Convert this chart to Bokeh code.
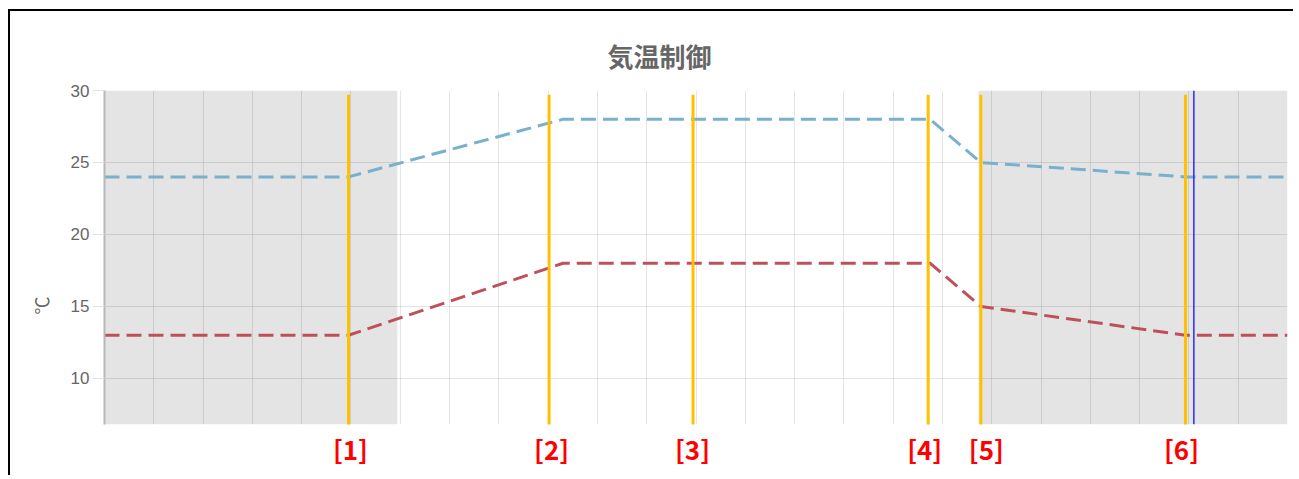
from bokeh.plotting import figure
from bokeh.models import (BoxAnnotation, FixedTicker, SingleIntervalTicker,
                          Span, Range1d, Title)
from bokeh.embed import file_html
from bokeh.resources import INLINE

# ---- data (hours of the day / degrees C) ----
hours = [0, 4.95, 9.3, 16.75, 17.78, 21.93, 24]
upper_temp = [24, 24, 28, 28, 25, 24, 24]
lower_temp = [13, 13, 18, 18, 15, 13, 13]
night_start = [0, 17.73]
night_end = [5.94, 24]
marker_hours = [4.95, 9.02, 11.94, 16.71, 17.78, 21.93]
marker_labels = ["[1]", "[2]", "[3]", "[4]", "[5]", "[6]"]
label_hours = [4.99, 9.07, 11.93, 16.64, 17.89, 21.85]
now_hour = 22.1
y_ticks = [10, 15, 20, 25, 30]

Y_MIN, Y_MAX = 6.8, 30

p = figure(width=1285, height=466, output_backend="svg", toolbar_location=None,
           x_range=Range1d(0, 24), y_range=Range1d(Y_MIN, Y_MAX),
           min_border_left=94, min_border_right=8, min_border_top=79,
           min_border_bottom=53, title="気温制御")
p.styles = {"margin-left": "8px", "margin-top": "9px",
            "border-left": "2px solid black", "border-top": "2px solid black"}
p.outline_line_color = None
p.background_fill_color = "white"
p.border_fill_color = "white"

p.title.text_font = "Noto Sans CJK JP"
p.title.text_font_size = "26px"
p.title.text_font_style = "bold"
p.title.text_color = "#666666"
p.title.align = "left"
p.title.offset = 503
p.title.standoff = 33

# x axis: carries the marker labels [1]..[6]
xa = p.xaxis[0]
xa.ticker = FixedTicker(ticks=label_hours)
xa.major_label_overrides = {h: t for h, t in zip(label_hours, marker_labels)}
xa.axis_line_color = None
xa.major_tick_line_color = None
xa.major_tick_out = 0
xa.major_tick_in = 0
xa.minor_tick_line_color = None
xa.major_label_standoff = 5
xa.major_label_text_font = "Noto Sans CJK JP"
xa.major_label_text_font_size = "26px"
xa.major_label_text_font_style = "bold"
xa.major_label_text_color = "red"

p.xgrid.ticker = SingleIntervalTicker(interval=1, num_minor_ticks=0)
p.yaxis.ticker = FixedTicker(ticks=y_ticks)
p.ygrid.ticker = FixedTicker(ticks=y_ticks)
for g in (p.xgrid, p.ygrid):
    g.grid_line_color = "black"
    g.grid_line_alpha = 0.1
    g.grid_line_width = 1

ya = p.yaxis[0]
ya.axis_line_color = "#b8b8b8"
ya.axis_line_width = 2
ya.major_tick_line_color = "#e3e3e3"
ya.major_tick_out = 12
ya.major_tick_in = 0
ya.minor_tick_line_color = None
ya.major_label_standoff = 3
ya.major_label_text_font = "Liberation Sans"
ya.major_label_text_font_size = "17px"
ya.major_label_text_color = "#666666"

unit_title = Title(text="℃", align="left", offset=110, text_font="Noto Sans CJK JP",
                   text_font_size="18px", text_font_style="normal",
                   text_color="#666666", standoff=28)
p.add_layout(unit_title, "left")

# night shading
for s, e in zip(night_start, night_end):
    p.add_layout(BoxAnnotation(left=s, right=e, fill_color="black", fill_alpha=0.105,
                               line_color=None, level="underlay"))

# temperature set lines
p.line(hours, upper_temp, line_color="#78b0cd", line_width=3, line_dash="15 7")
p.line(hours, lower_temp, line_color="#be505a", line_width=3, line_dash="15 7")

# markers
p.segment(x0=marker_hours, y0=[29.7] * len(marker_hours), x1=marker_hours,
          y1=[Y_MIN - 1] * len(marker_hours), line_color="#ffc000", line_width=3)
p.add_layout(Span(location=now_hour, dimension="height", line_color="#2a2aff",
                  line_width=1.5))

open("out.html", "w").write(file_html(p, INLINE))
